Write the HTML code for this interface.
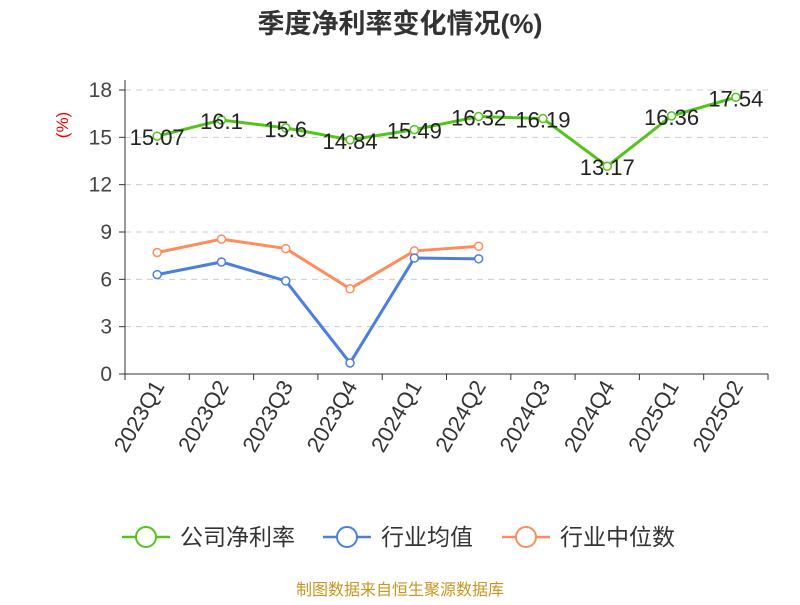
<!DOCTYPE html>
<html><head><meta charset="utf-8"><style>
body{margin:0;background:#fff;font-family:"Liberation Sans","Noto Sans CJK SC",sans-serif;}
</style></head><body>
<svg width="800" height="600" xmlns="http://www.w3.org/2000/svg" font-family="Liberation Sans, Noto Sans CJK SC, sans-serif">
<text x="400" y="33" text-anchor="middle" font-size="27" font-weight="bold" fill="#333">季度净利率变化情况(%)</text>
<text transform="translate(68,125) rotate(-90)" text-anchor="middle" font-size="17" fill="#e00">(%)</text>
<g id="grid"></g><g id="axes"></g><g id="series"></g>
<g>
<g><line x1="122" y1="537" x2="170" y2="537" stroke="#52c41a" stroke-width="2.5"/><circle cx="146" cy="537" r="10" fill="#fff" stroke="#52c41a" stroke-width="2"/><text x="180" y="545" font-size="23" fill="#333">公司净利率</text></g>
<g><line x1="323" y1="537" x2="371" y2="537" stroke="#4a7fe0" stroke-width="2.5"/><circle cx="347" cy="537" r="10" fill="#fff" stroke="#4a7fe0" stroke-width="2"/><text x="381" y="545" font-size="23" fill="#333">行业均值</text></g>
<g><line x1="502" y1="537" x2="550" y2="537" stroke="#ff8c5a" stroke-width="2.5"/><circle cx="526" cy="537" r="10" fill="#fff" stroke="#ff8c5a" stroke-width="2"/><text x="560" y="545" font-size="23" fill="#333">行业中位数</text></g>
</g>
<text x="400" y="595" text-anchor="middle" font-size="16" fill="#c8961e">制图数据来自恒生聚源数据库</text>
</svg>
<script>
const categories=["2023Q1","2023Q2","2023Q3","2023Q4","2024Q1","2024Q2","2024Q3","2024Q4","2025Q1","2025Q2"];
const companyValues=[15.07,16.1,15.6,14.84,15.49,16.32,16.19,13.17,16.36,17.54];
const industryAvg=[6.3,7.1,5.9,0.7,7.35,7.3];
const industryMedian=[7.7,8.55,7.95,5.4,7.8,8.1];
const yTicks=[0,3,6,9,12,15,18];
const NS="http://www.w3.org/2000/svg";
const x0=125,x1=768,yTop=90,yBot=374,ymax=18;
const band=(x1-x0)/categories.length;
const xs=i=>x0+band*(i+0.5);
const ys=v=>yBot-(v/ymax)*(yBot-yTop);
function mk(tag,attrs,parent,text){const e=document.createElementNS(NS,tag);for(const k in attrs)e.setAttribute(k,attrs[k]);if(text!==undefined)e.textContent=text;parent.appendChild(e);return e;}
const grid=document.getElementById('grid'),axes=document.getElementById('axes'),ser=document.getElementById('series');
yTicks.forEach(t=>{
 if(t>0){const g=mk('line',{x1:x0,x2:x1,y1:ys(t),y2:ys(t),stroke:'#ccc','stroke-dasharray':'6,5'},grid);}
 const tk=mk('line',{x1:x0-6,x2:x0,y1:ys(t),y2:ys(t),stroke:'#333'},axes);
 const l=mk('text',{x:x0-13,y:ys(t)+7,'text-anchor':'end','font-size':21,fill:'#444'},axes,t);
});
const ya=mk('line',{x1:x0,x2:x0,y1:yTop-10,y2:yBot,stroke:'#333'},axes);
const xa=mk('line',{x1:x0,x2:x1,y1:yBot,y2:yBot,stroke:'#333'},axes);
for(let i=0;i<=categories.length;i++){const t=mk('line',{x1:x0+band*i,x2:x0+band*i,y1:yBot,y2:yBot+6,stroke:'#333'},axes);}
categories.forEach((c,i)=>{const t=mk('text',{transform:`translate(${xs(i)+8},${yBot+12}) rotate(-60)`,'text-anchor':'end','font-size':22,fill:'#333'},axes,c);});
function series(vals,color,name,labels){
 const pts=vals.map((v,i)=>xs(i)+','+ys(v)).join(' ');
 const pl=mk('polyline',{points:pts,fill:'none',stroke:color,'stroke-width':3},ser);
 vals.forEach((v,i)=>{const c=mk('circle',{cx:xs(i),cy:ys(v),r:4,fill:'#fff',stroke:color,'stroke-width':1.5},ser);
  if(labels){const t=mk('text',{x:xs(i),y:ys(v)+9,'text-anchor':'middle','font-size':22,fill:'#222'},ser,v);}});
}
series(industryMedian,'#ff8c5a','industry-median',false);
series(industryAvg,'#4a7fe0','industry-avg',false);
series(companyValues,'#52c41a','company',true);
</script>
</body></html>
